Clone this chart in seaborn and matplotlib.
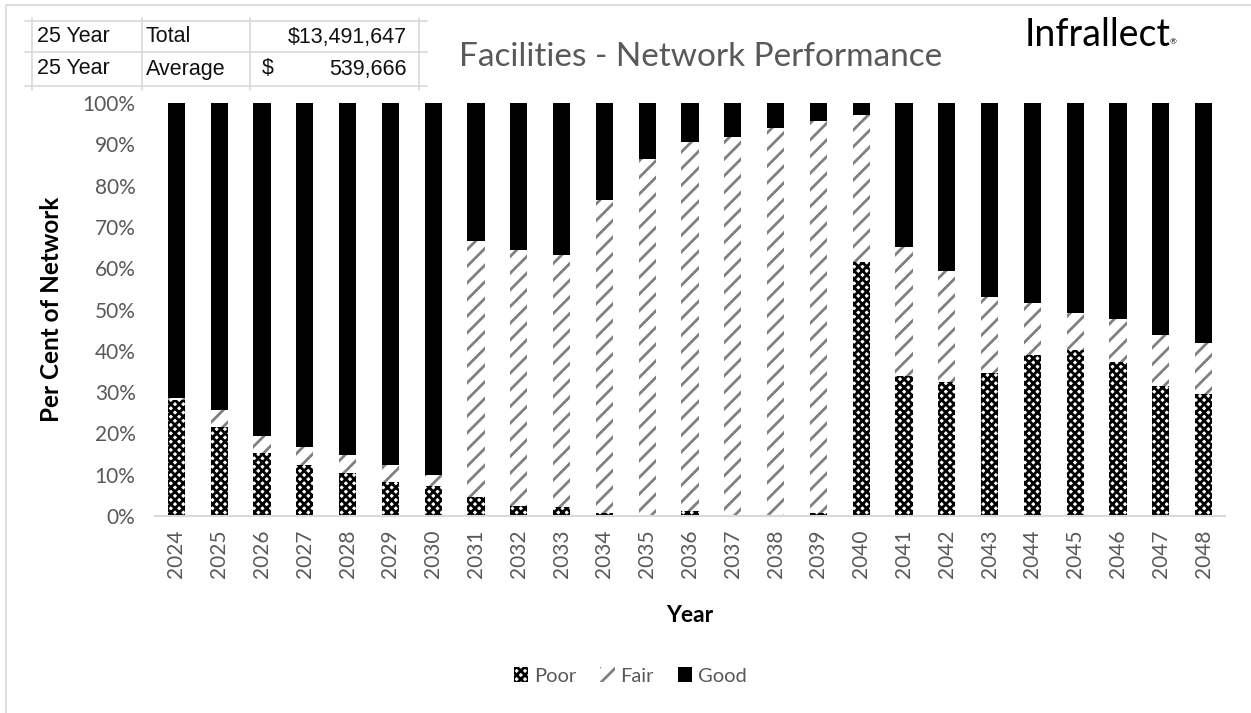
import pandas as pd
import matplotlib.pyplot as plt
import seaborn as sns
from matplotlib.patches import Patch, Rectangle
from matplotlib.lines import Line2D

# values (per cent of network)
years = [str(y) for y in range(2024, 2049)]
poor = [28.0, 21.6, 15.3, 12.3, 10.5, 8.2, 7.3, 4.7, 2.4, 2.2, 0.8, 0.2, 1.3, 0.2, 0.2,
        0.8, 61.6, 33.9, 32.4, 34.6, 39.0, 40.2, 37.4, 31.5, 29.5]
fair = [0.6, 4.1, 4.1, 4.3, 4.3, 4.1, 2.6, 62.0, 61.9, 61.0, 75.6, 86.2, 89.2, 91.6, 93.8,
        94.9, 35.5, 31.2, 26.9, 18.5, 12.5, 8.9, 10.2, 12.3, 12.3]
good = [71.4, 74.3, 80.6, 83.4, 85.2, 87.7, 90.1, 33.3, 35.7, 36.8, 23.6, 13.6, 9.5, 8.2, 6.0,
        4.3, 2.9, 34.9, 40.7, 46.9, 48.5, 50.9, 52.4, 56.2, 58.2]

table_rows = [["25 Year", "Total", "$13,491,647"],
              ["25 Year", "Average", "$", "539,666"]]

df = pd.DataFrame({"Year": years, "Poor": poor, "Fair": fair, "Good": good})
df["PoorFair"] = df["Poor"] + df["Fair"]
df["Total"] = df["PoorFair"] + df["Good"]

sns.set_style("white")
plt.rcParams['font.family'] = ['Lato', 'DejaVu Sans']
plt.rcParams['hatch.linewidth'] = 2.0

fig = plt.figure(figsize=(12.51, 7.13), dpi=100)
ax = fig.add_axes([155/1251, 1-516/713, 1070/1251, 413/713])

grey = "#595959"

# stacked look: draw the totals first, then overlay the lower layers
sns.barplot(data=df, x="Year", y="Total", color="black", width=0.4, ax=ax)
for p in ax.containers[-1]:
    p.set_facecolor("black"); p.set_linewidth(0)

sns.barplot(data=df, x="Year", y="PoorFair", color="white", width=0.4, ax=ax)
for p in ax.containers[-1]:
    p.set_facecolor("white"); p.set_edgecolor("#808080"); p.set_hatch("//"); p.set_linewidth(0)

sns.barplot(data=df, x="Year", y="Poor", color="white", width=0.4, ax=ax)
for p in ax.containers[-1]:
    p.set_facecolor("white"); p.set_edgecolor("black"); p.set_hatch("xxxx"); p.set_linewidth(0)

ax.set_xlim(-0.5, len(years) - 0.5)
ax.set_ylim(0, 100)
ax.set_yticks(range(0, 101, 10))
ax.set_yticklabels([f"{v}%" for v in range(0, 101, 10)])
ax.tick_params(axis="x", labelrotation=90, length=0, pad=10, labelsize=15, labelcolor=grey)
ax.tick_params(axis="y", length=0, pad=14, labelsize=15, labelcolor=grey)
for s in ["top", "right", "left"]:
    ax.spines[s].set_visible(False)
ax.spines["bottom"].set_color("#d9d9d9")
ax.spines["bottom"].set_linewidth(1.5)

ax.set_ylabel("Per Cent of Network", fontsize=17.5, fontweight="bold", color="black")
ax.yaxis.set_label_coords(-0.086, 0.5)
ax.set_xlabel("Year", fontsize=16.5, fontweight="bold", color="black")
ax.xaxis.set_label_coords(0.5, -0.215)

fig.text(0.56, 1-57/713, "Facilities - Network Performance", fontsize=24, color=grey,
         ha="center", va="center")
fig.text(1025/1251, 1-35/713, "Infrallect", fontsize=27, color="black", ha="left", va="center")
fig.text(1170/1251, 1-42/713, "®", fontsize=6, color="black", ha="left", va="center")

# outer frame
fig.add_artist(Rectangle((6/1251, -0.1), 1.2, 1-5/713 + 0.1, transform=fig.transFigure,
                         fill=False, edgecolor="#d9d9d9", linewidth=1.2))

# summary table in the top left
lc = "#d9d9d9"
for yy in [21, 52, 86]:
    fig.add_artist(Line2D([25/1251, 427/1251], [1-yy/713]*2, color=lc, lw=1.2))
for xx in [32, 142, 250, 419]:
    fig.add_artist(Line2D([xx/1251]*2, [1-18/713, 1-90/713], color=lc, lw=1.2))
row_y = [37, 69]
for r, row in zip(row_y, table_rows):
    fy = 1 - r/713
    kw = dict(fontsize=15.5, color="#111111", va="center", family="Liberation Sans")
    fig.text(37/1251, fy, row[0], ha="left", **kw)
    fig.text(146/1251, fy, row[1], ha="left", **kw)
    if len(row) == 3:
        fig.text(407/1251, fy, row[2], ha="right", **kw)
    else:
        fig.text(262/1251, fy, row[2], ha="left", **kw)
        fig.text(407/1251, fy, row[3], ha="right", **kw)

handles = [Patch(facecolor="white", edgecolor="black", hatch="xxxx", linewidth=0, label="Poor"),
           Patch(facecolor="white", edgecolor="#808080", hatch="//", linewidth=0, label="Fair"),
           Patch(facecolor="black", edgecolor="black", linewidth=0, label="Good")]
leg = fig.legend(handles=handles, loc="center", bbox_to_anchor=(0.504, 1-676/713), ncol=3,
                 frameon=False, fontsize=14.5, handlelength=0.7, handleheight=0.7,
                 handletextpad=0.3, columnspacing=1.2)
for t in leg.get_texts():
    t.set_color(grey)

fig.savefig("out.png", dpi=100)
